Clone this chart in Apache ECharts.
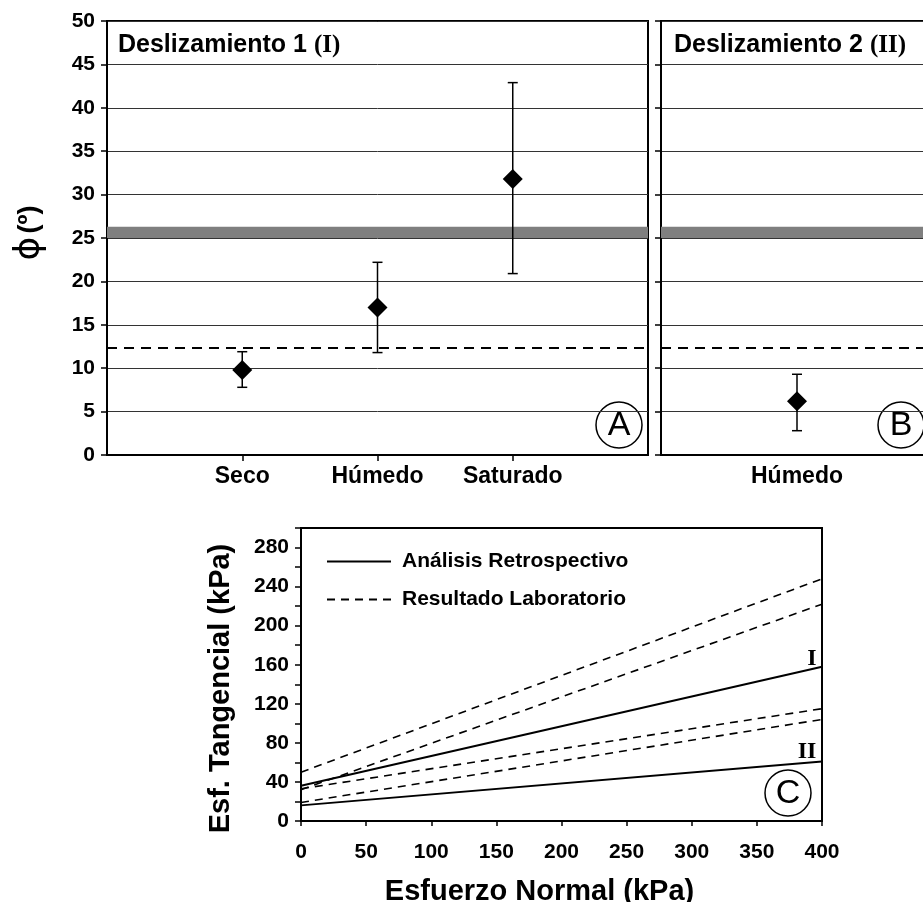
<!DOCTYPE html>
<html>
<head>
<meta charset="utf-8">
<script src="https://cdn.jsdelivr.net/npm/echarts@6/dist/echarts.min.js"></script>
<style>
  html, body { margin: 0; padding: 0; background: #fff; }
  #chart { width: 923px; height: 902px; }
</style>
</head>
<body>
<div id="chart"></div>
<script>
// panel A: Deslizamiento 1
const catsA = ['', 'Seco', 'Húmedo', 'Saturado', ''];
const meanA = [9.8, 17.0, 31.8];
const lowA = [7.8, 11.8, 20.9];
const highA = [11.9, 22.2, 42.9];
// panel B: Deslizamiento 2
const catsB = ['Húmedo'];
const meanB = [6.2];
const lowB = [2.8];
const highB = [9.3];
// reference values
const band = [25, 26.3];
const labPhi = 12.3;
// panel C: envelopes (tau at sigma = 0 and 400)
const sigma = [0, 400];
const retroI = [36, 158];
const retroII = [16, 61];
const lab1 = [50, 248];
const lab2 = [32, 222];
const lab3 = [33, 115];
const lab4 = [19, 104];

const SANS = 'Liberation Sans';
const SERIF = 'Liberation Serif';
const INK = '#000';

const chart = echarts.init(document.getElementById('chart'));

const errRender = (params, api) => {
  const x = api.value(0);
  const top = api.coord([x, api.value(2)]);
  const bot = api.coord([x, api.value(1)]);
  const w = 5;
  const st = { stroke: INK, lineWidth: 1.5 };
  return {
    type: 'group',
    children: [
      { type: 'line', shape: { x1: top[0], y1: top[1], x2: bot[0], y2: bot[1] }, style: st },
      { type: 'line', shape: { x1: top[0] - w, y1: top[1], x2: top[0] + w, y2: top[1] }, style: st },
      { type: 'line', shape: { x1: bot[0] - w, y1: bot[1], x2: bot[0] + w, y2: bot[1] }, style: st }
    ]
  };
};

const pair = (ys) => sigma.map((s, i) => [s, ys[i]]);

const phiAxis = (gi, showLabels) => ({
  type: 'value', gridIndex: gi, min: 0, max: 50, interval: 5,
  axisLine: { show: true, lineStyle: { color: INK, width: 2 } },
  axisTick: { show: true, length: 6, lineStyle: { color: INK, width: 1.5 } },
  axisLabel: { show: showLabels, fontFamily: SANS, fontWeight: 'bold', fontSize: 21, color: INK, margin: 12 },
  splitLine: { show: true, lineStyle: { color: '#333', width: 1 } }
});

const refMarks = {
  markArea: {
    silent: true,
    itemStyle: { color: '#7f7f7f' },
    data: [[{ yAxis: band[0] }, { yAxis: band[1] }]]
  },
  markLine: {
    silent: true, symbol: 'none', label: { show: false },
    lineStyle: { color: INK, width: 2, type: [10, 7] },
    data: [{ yAxis: labPhi }]
  }
};

const labStyle = { color: INK, width: 1.6, type: [8, 6] };
const retroStyle = { color: INK, width: 2, type: 'solid' };

const circleTag = (cx, cy, letter) => ({
  type: 'group', x: cx, y: cy, z: 100,
  children: [
    { type: 'circle', shape: { cx: 0, cy: 0, r: 23 }, style: { fill: '#fff', stroke: INK, lineWidth: 1.5 } },
    { type: 'text', style: { text: letter, x: 0, y: 1, align: 'center', verticalAlign: 'middle',
      font: '34px "Liberation Sans"', fill: INK } }
  ]
});

chart.setOption({
  animation: false,
  backgroundColor: '#fff',
  title: [
    {
      left: 113, top: 28,
      text: '{a|Deslizamiento 1 }{b|(I)}',
      textStyle: { rich: {
        a: { fontFamily: SANS, fontWeight: 'bold', fontSize: 25, color: INK },
        b: { fontFamily: SERIF, fontWeight: 'bold', fontSize: 25, color: INK }
      } }
    },
    {
      left: 669, top: 28,
      text: '{a|Deslizamiento 2 }{b|(II)}',
      textStyle: { rich: {
        a: { fontFamily: SANS, fontWeight: 'bold', fontSize: 25, color: INK },
        b: { fontFamily: SERIF, fontWeight: 'bold', fontSize: 25, color: INK }
      } }
    }
  ],
  legend: {
    left: 321, top: 546, orient: 'vertical',
    itemWidth: 64, itemHeight: 14, itemGap: 17,
    data: ['Análisis Retrospectivo', 'Resultado Laboratorio'],
    itemStyle: { opacity: 0 },
    textStyle: { fontFamily: SANS, fontWeight: 'bold', fontSize: 21, color: INK, padding: [0, 0, 0, 6] },
    selectedMode: false
  },
  grid: [
    { left: 107, right: 275, top: 21, bottom: 447, outerBoundsMode: 'none', show: true, borderColor: INK, borderWidth: 2 },
    { left: 661, width: 272, top: 21, bottom: 447, outerBoundsMode: 'none', show: true, borderColor: INK, borderWidth: 2 },
    { left: 301, right: 101, top: 528, bottom: 81, outerBoundsMode: 'none', show: true, borderColor: INK, borderWidth: 2 }
  ],
  xAxis: [
    {
      type: 'category', gridIndex: 0, data: catsA, boundaryGap: false,
      axisLine: { lineStyle: { color: INK, width: 2 } },
      axisTick: { length: 6, interval: (i) => catsA[i] !== '', lineStyle: { color: INK, width: 1.5 } },
      axisLabel: { interval: 0, fontFamily: SANS, fontWeight: 'bold', fontSize: 23, color: INK, margin: 10 }
    },
    {
      type: 'category', gridIndex: 1, data: catsB,
      axisLine: { lineStyle: { color: INK, width: 2 } },
      axisTick: { length: 6, alignWithLabel: true, lineStyle: { color: INK, width: 1.5 } },
      axisLabel: { fontFamily: SANS, fontWeight: 'bold', fontSize: 23, color: INK, margin: 10 }
    },
    {
      type: 'value', gridIndex: 2, min: 0, max: 400, interval: 50,
      name: 'Esfuerzo Normal (kPa)', nameLocation: 'middle', nameGap: 56,
      nameTextStyle: { fontFamily: SANS, fontWeight: 'bold', fontSize: 29, color: INK, padding: [0, 44, 0, 0] },
      axisLine: { lineStyle: { color: INK, width: 2 } },
      axisTick: { length: 5, lineStyle: { color: INK, width: 1.5 } },
      axisLabel: { fontFamily: SANS, fontWeight: 'bold', fontSize: 21, color: INK, margin: 21 },
      splitLine: { show: false }
    }
  ],
  yAxis: [
    phiAxis(0, true),
    phiAxis(1, false),
    {
      type: 'value', gridIndex: 2, min: 0, max: 300, interval: 20,
      name: 'Esf. Tangencial (kPa)', nameLocation: 'middle', nameGap: 66, nameRotate: 90,
      nameTextStyle: { fontFamily: SANS, fontWeight: 'bold', fontSize: 29, color: INK, padding: [0, 28, 0, 0] },
      axisLine: { lineStyle: { color: INK, width: 2 } },
      axisTick: { length: 6, lineStyle: { color: INK, width: 1.5 } },
      axisLabel: {
        fontFamily: SANS, fontWeight: 'bold', fontSize: 21, color: INK, margin: 12,
        formatter: (v) => (v % 40 === 0 && v < 300 ? String(v) : '')
      },
      splitLine: { show: false }
    }
  ],
  series: [
    Object.assign({
      type: 'scatter', xAxisIndex: 0, yAxisIndex: 0, z: 5,
      symbol: 'diamond', symbolSize: [20, 20], itemStyle: { color: INK, opacity: 1 },
      data: meanA.map((v, i) => [i + 1, v])
    }, refMarks),
    {
      type: 'custom', xAxisIndex: 0, yAxisIndex: 0, z: 4, renderItem: errRender,
      encode: { x: 0, y: [1, 2] },
      data: lowA.map((l, i) => [i + 1, l, highA[i]])
    },
    Object.assign({
      type: 'scatter', xAxisIndex: 1, yAxisIndex: 1, z: 5,
      symbol: 'diamond', symbolSize: [20, 20], itemStyle: { color: INK, opacity: 1 },
      data: meanB.map((v, i) => [i, v])
    }, refMarks),
    {
      type: 'custom', xAxisIndex: 1, yAxisIndex: 1, z: 4, renderItem: errRender,
      encode: { x: 0, y: [1, 2] },
      data: lowB.map((l, i) => [i, l, highB[i]])
    },
    {
      name: 'Análisis Retrospectivo', type: 'line', xAxisIndex: 2, yAxisIndex: 2,
      symbol: 'none', lineStyle: retroStyle, itemStyle: { color: INK }, data: pair(retroI),
      markPoint: {
        silent: true, symbol: 'circle', symbolSize: 0,
        label: { show: true, position: 'inside', offset: [-10, -8], formatter: 'I',
          fontFamily: SERIF, fontWeight: 'bold', fontSize: 24, color: INK },
        data: [{ coord: [sigma[1], retroI[1]] }]
      }
    },
    {
      name: 'Análisis Retrospectivo', type: 'line', xAxisIndex: 2, yAxisIndex: 2,
      symbol: 'none', lineStyle: retroStyle, itemStyle: { color: INK }, data: pair(retroII),
      markPoint: {
        silent: true, symbol: 'circle', symbolSize: 0,
        label: { show: true, position: 'inside', offset: [-15, -10], formatter: 'II',
          fontFamily: SERIF, fontWeight: 'bold', fontSize: 24, color: INK },
        data: [{ coord: [sigma[1], retroII[1]] }]
      }
    },
    { name: 'Resultado Laboratorio', type: 'line', xAxisIndex: 2, yAxisIndex: 2,
      symbol: 'none', lineStyle: labStyle, itemStyle: { color: INK }, data: pair(lab1) },
    { name: 'Resultado Laboratorio', type: 'line', xAxisIndex: 2, yAxisIndex: 2,
      symbol: 'none', lineStyle: labStyle, itemStyle: { color: INK }, data: pair(lab2) },
    { name: 'Resultado Laboratorio', type: 'line', xAxisIndex: 2, yAxisIndex: 2,
      symbol: 'none', lineStyle: labStyle, itemStyle: { color: INK }, data: pair(lab3) },
    { name: 'Resultado Laboratorio', type: 'line', xAxisIndex: 2, yAxisIndex: 2,
      symbol: 'none', lineStyle: labStyle, itemStyle: { color: INK }, data: pair(lab4) }
  ],
  graphic: [
    {
      type: 'text', x: 30, y: 233, rotation: Math.PI / 2,
      style: {
        text: '{p|ϕ} {q|(º)}', align: 'center', verticalAlign: 'middle',
        rich: {
          p: { fontFamily: 'DejaVu Sans', fontSize: 36, fill: INK },
          q: { fontFamily: SANS, fontWeight: 'bold', fontSize: 27, fill: INK }
        }
      }
    },
    circleTag(619, 425, 'A'),
    circleTag(901, 425, 'B'),
    circleTag(788, 793, 'C')
  ]
});
</script>
</body>
</html>
